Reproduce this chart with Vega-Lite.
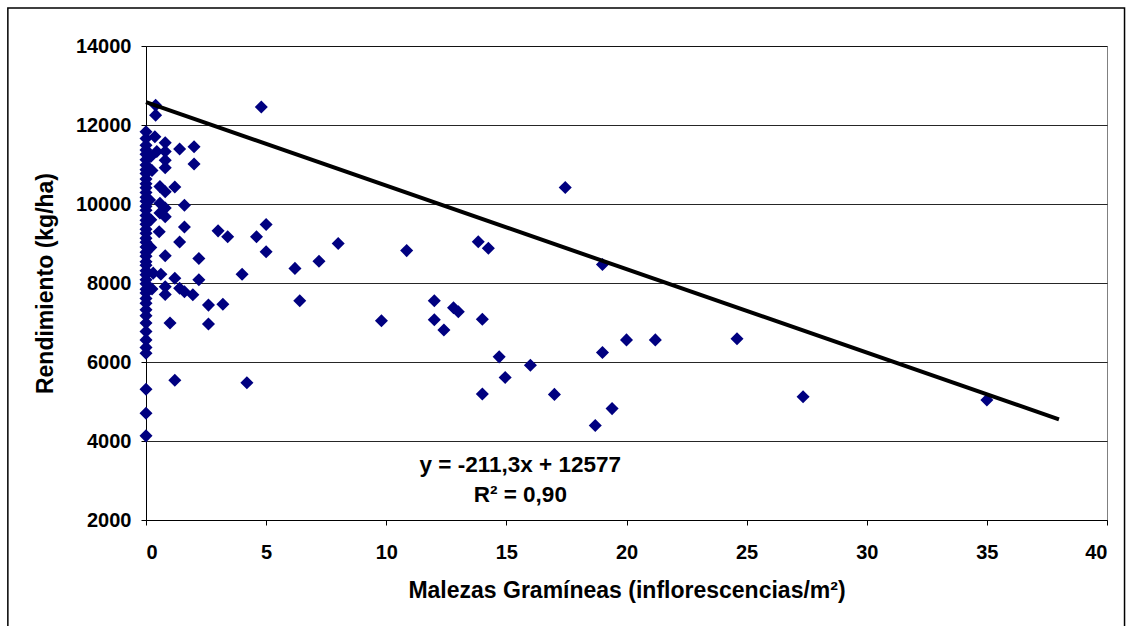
{
  "$schema": "https://vega.github.io/schema/vega-lite/v6.json",
  "autosize": {"type": "none"},
  "width": 961,
  "height": 474,
  "padding": {"left": 146, "top": 46, "right": 25, "bottom": 106},
  "background": "white",
  "config": {
    "font": "Liberation Sans",
    "view": {"stroke": "#808080", "strokeWidth": 1},
    "axis": {
      "labelFont": "Liberation Sans",
      "labelFontWeight": "bold",
      "labelFontSize": 20,
      "labelColor": "black",
      "titleFont": "Liberation Sans",
      "titleFontWeight": "bold",
      "titleFontSize": 23,
      "titleColor": "black",
      "domainColor": "black",
      "tickColor": "black",
      "tickSize": 5
    }
  },
  "datasets": {
    "pts": [
      {"x": 0, "y": 11830}, {"x": 0, "y": 11660}, {"x": 0, "y": 11490}, {"x": 0, "y": 11370}, {"x": 0, "y": 11260},
      {"x": 0, "y": 11120}, {"x": 0, "y": 10990}, {"x": 0, "y": 10870}, {"x": 0, "y": 10770}, {"x": 0, "y": 10630},
      {"x": 0, "y": 10510}, {"x": 0, "y": 10410}, {"x": 0, "y": 10290}, {"x": 0, "y": 10170}, {"x": 0, "y": 10070},
      {"x": 0, "y": 9940}, {"x": 0, "y": 9840}, {"x": 0, "y": 9710}, {"x": 0, "y": 9590}, {"x": 0, "y": 9490},
      {"x": 0, "y": 9360}, {"x": 0, "y": 9260}, {"x": 0, "y": 9130}, {"x": 0, "y": 9030}, {"x": 0, "y": 8910},
      {"x": 0, "y": 8780}, {"x": 0, "y": 8680}, {"x": 0, "y": 8540}, {"x": 0, "y": 8450}, {"x": 0, "y": 8310},
      {"x": 0, "y": 8210}, {"x": 0, "y": 8080}, {"x": 0, "y": 7980}, {"x": 0, "y": 7840}, {"x": 0, "y": 7750},
      {"x": 0, "y": 7610}, {"x": 0, "y": 7490}, {"x": 0, "y": 7320}, {"x": 0, "y": 7170}, {"x": 0, "y": 6990},
      {"x": 0, "y": 6770}, {"x": 0, "y": 6560}, {"x": 0, "y": 6370}, {"x": 0, "y": 6220}, {"x": 0, "y": 5310},
      {"x": 0, "y": 4700}, {"x": 0, "y": 4130},
      {"x": 0.2, "y": 11200}, {"x": 0.25, "y": 10850}, {"x": 0.15, "y": 10100}, {"x": 0.2, "y": 9600},
      {"x": 0.2, "y": 8900}, {"x": 0.3, "y": 8250}, {"x": 0.25, "y": 7850},
      {"x": 0.4, "y": 12500}, {"x": 0.4, "y": 12250}, {"x": 4.8, "y": 12455}, {"x": 0.37, "y": 11700},
      {"x": 0.8, "y": 11550}, {"x": 1.4, "y": 11390}, {"x": 2.0, "y": 11450}, {"x": 0.45, "y": 11330},
      {"x": 0.8, "y": 11330}, {"x": 0.8, "y": 11110}, {"x": 2.0, "y": 11010}, {"x": 0.8, "y": 10920},
      {"x": 0.58, "y": 10440}, {"x": 1.2, "y": 10430}, {"x": 0.8, "y": 10310}, {"x": 1.6, "y": 9970},
      {"x": 0.58, "y": 10020}, {"x": 0.8, "y": 9900}, {"x": 0.8, "y": 9680}, {"x": 0.58, "y": 9770},
      {"x": 1.6, "y": 9420}, {"x": 0.55, "y": 9300}, {"x": 1.4, "y": 9040}, {"x": 3.0, "y": 9320},
      {"x": 3.4, "y": 9170}, {"x": 5.0, "y": 9480}, {"x": 4.6, "y": 9170}, {"x": 5.0, "y": 8790},
      {"x": 0.8, "y": 8690}, {"x": 2.2, "y": 8620}, {"x": 0.62, "y": 8220}, {"x": 1.2, "y": 8120},
      {"x": 2.2, "y": 8080}, {"x": 4.0, "y": 8220}, {"x": 0.8, "y": 7905}, {"x": 0.8, "y": 7710},
      {"x": 1.4, "y": 7865}, {"x": 1.6, "y": 7780}, {"x": 1.95, "y": 7700}, {"x": 2.6, "y": 7440},
      {"x": 3.2, "y": 7460}, {"x": 1.0, "y": 6990}, {"x": 2.6, "y": 6960}, {"x": 1.2, "y": 5540},
      {"x": 4.2, "y": 5475}, {"x": 8.0, "y": 9000}, {"x": 7.2, "y": 8550}, {"x": 6.2, "y": 8370},
      {"x": 10.85, "y": 8820}, {"x": 13.83, "y": 9045}, {"x": 14.25, "y": 8880}, {"x": 6.4, "y": 7550},
      {"x": 9.8, "y": 7045}, {"x": 12.0, "y": 7550}, {"x": 12.0, "y": 7070}, {"x": 12.4, "y": 6810},
      {"x": 12.8, "y": 7375}, {"x": 13.0, "y": 7270}, {"x": 14.0, "y": 7080}, {"x": 14.7, "y": 6130},
      {"x": 14.95, "y": 5610}, {"x": 14.0, "y": 5190}, {"x": 17.45, "y": 10420}, {"x": 19.0, "y": 8470},
      {"x": 20.0, "y": 6560}, {"x": 21.2, "y": 6560}, {"x": 24.6, "y": 6590}, {"x": 19.0, "y": 6240},
      {"x": 16.0, "y": 5920}, {"x": 17.0, "y": 5180}, {"x": 19.4, "y": 4820}, {"x": 18.7, "y": 4390},
      {"x": 27.35, "y": 5120}, {"x": 35.0, "y": 5040}
    ],
    "fit": [{"x": 0, "y": 12577}, {"x": 38, "y": 4548}],
    "labels": [
      {"x": 15.58, "y": 3391, "label": "y = -211,3x + 12577"},
      {"x": 15.58, "y": 2631, "label": "R² = 0,90"}
    ],
    "frame": [{"x": -5.75, "x2": 40.73, "y": 14962, "y2": -3000}]
  },
  "layer": [
    {
      "data": {"name": "frame"},
      "mark": {"type": "rect", "fill": null, "fillOpacity": 0, "stroke": "black", "strokeWidth": 1.5},
      "encoding": {
        "x": {"field": "x", "type": "quantitative"},
        "x2": {"field": "x2"},
        "y": {"field": "y", "type": "quantitative"},
        "y2": {"field": "y2"}
      }
    },
    {
      "data": {"name": "pts"},
      "mark": {"type": "point", "shape": "diamond", "filled": true, "color": "#000080", "opacity": 1, "size": 170},
      "encoding": {
        "x": {
          "field": "x", "type": "quantitative",
          "scale": {"domain": [0, 40], "nice": false, "zero": false},
          "axis": {
            "values": [0, 5, 10, 15, 20, 25, 30, 35, 40],
            "grid": false,
            "labelPadding": 17,
            "titlePadding": 17,
            "title": "Malezas Gramíneas (inflorescencias/m²)"
          }
        },
        "y": {
          "field": "y", "type": "quantitative",
          "scale": {"domain": [2000, 14000], "nice": false, "zero": false},
          "axis": {
            "values": [2000, 4000, 6000, 8000, 10000, 12000, 14000],
            "format": "d",
            "grid": true,
            "gridColor": "black",
            "gridWidth": 1,
            "gridOpacity": 0.85,
            "labelPadding": 10,
            "titlePadding": 18,
            "title": "Rendimiento (kg/ha)"
          }
        }
      }
    },
    {
      "data": {"name": "fit"},
      "mark": {"type": "line", "color": "black", "strokeWidth": 4},
      "encoding": {
        "x": {"field": "x", "type": "quantitative"},
        "y": {"field": "y", "type": "quantitative"}
      }
    },
    {
      "data": {"name": "labels"},
      "mark": {"type": "text", "font": "Liberation Sans", "fontWeight": "bold", "fontSize": 22.5, "color": "black", "align": "center", "baseline": "middle"},
      "encoding": {
        "x": {"field": "x", "type": "quantitative"},
        "y": {"field": "y", "type": "quantitative"},
        "text": {"field": "label"}
      }
    }
  ]
}
